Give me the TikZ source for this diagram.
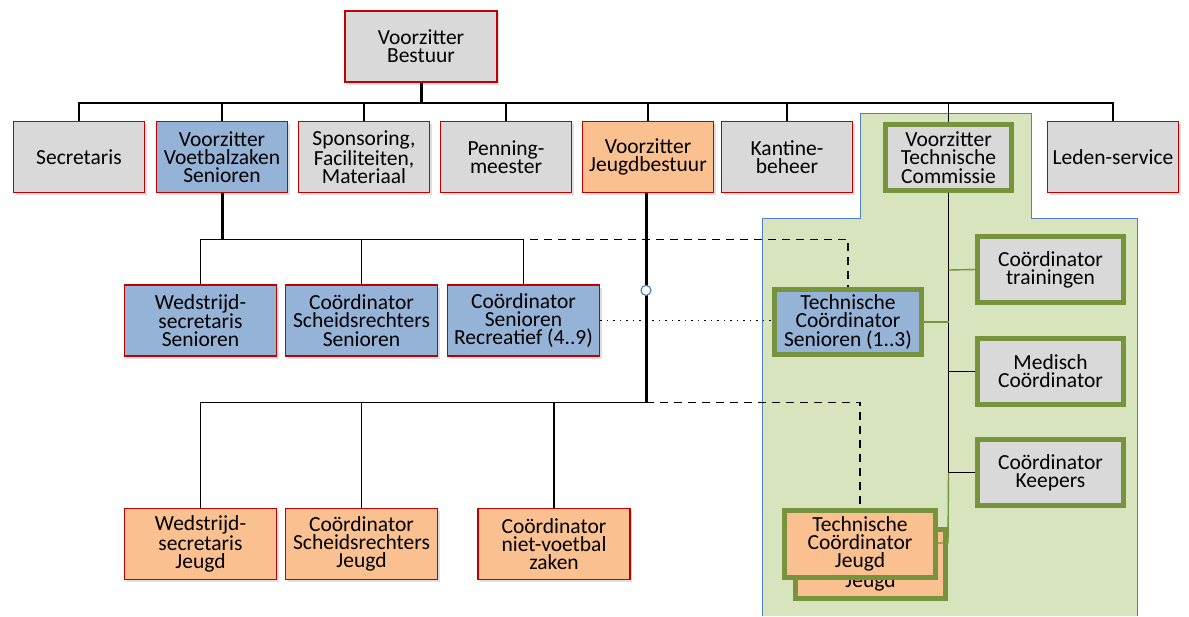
\documentclass[tikz,border=0pt]{standalone}
\usepackage{fontspec}
\setmainfont{Carlito}
\usetikzlibrary{shadows}

\definecolor{boxgray}{HTML}{D9D9D9}
\definecolor{boxblue}{HTML}{95B3D7}
\definecolor{boxorange}{HTML}{FAC090}
\definecolor{boxred}{HTML}{C00000}
\definecolor{tcgreen}{HTML}{77933C}
\definecolor{tcfill}{HTML}{D7E4BD}
\definecolor{tcline}{HTML}{4F81BD}

\tikzset{
  box/.style={draw=boxred, line width=1.8pt, fill=boxgray, align=center,
    minimum width=131pt, minimum height=71pt, inner sep=0pt,
    font=\fontsize{21.5}{18.2}\selectfont,
    drop shadow={opacity=0.25, shadow xshift=2pt, shadow yshift=-2.5pt}},
  wide/.style={minimum width=152pt},
  senior/.style={fill=boxblue},
  youth/.style={fill=boxorange},
  tcbox/.style={draw=tcgreen, line width=5pt},
  link/.style={black, line width=1.7pt},
  trunk/.style={black, line width=3pt},
  dashline/.style={black, line width=1.6pt, dash pattern=on 8pt off 6pt},
  dotline/.style={black, line width=1.4pt, dash pattern=on 1.5pt off 5pt},
  greenlink/.style={tcgreen, line width=1.4pt},
  knob/.style={circle, draw=tcline, fill=white, line width=1.2pt,
    minimum size=10pt, inner sep=0pt}
}

\begin{document}
\begin{tikzpicture}[x=1pt, y=-1pt]
    \useasboundingbox (0,0) rectangle (1189,616);

    % Draw the technical committee area
    \fill[tcfill] (860,113) -- (1031,113) -- (1031,218) -- (1137,218)
        -- (1137,616) -- (762,616) -- (762,218) -- (860,218) -- cycle;
    \draw[tcline, line width=1pt] (762,616) -- (762,218) -- (860,218)
        -- (860,113) -- (1031,113) -- (1031,218) -- (1137,218) -- (1137,616);

    % Board
    \node[box, minimum width=152pt] (top) at (421,46.5) {Voorzitter\\Bestuur};

    % First row
    \node[box] (secr) at (79,157) {Secretaris};
    \node[box, senior] (vvs) at (222,157) {Voorzitter\\Voetbalzaken\\Senioren};
    \node[box] (spons) at (364,157) {Sponsoring,\\Faciliteiten,\\Materiaal};
    \node[box] (penn) at (506,157) {Penning-\\meester};
    \node[box, youth] (vjb) at (648,157) {Voorzitter\\Jeugdbestuur};
    \node[box] (kant) at (787,157) {Kantine-\\beheer};
    \node[box, tcbox, minimum width=126pt, minimum height=66pt] (vtc) at (948.5,157.5) {Voorzitter\\Technische\\Commissie};
    \node[box] (leden) at (1113,157) {Leden-service};

    % Seniors row
    \node[box, wide, senior] (wss) at (200.5,320.5) {Wedstrijd-\\secretaris\\Senioren};
    \node[box, wide, senior] (css) at (361.5,320.5) {Coördinator\\Scheidsrechters\\Senioren};
    \node[box, wide, senior] (crs) at (523.5,320.5) {Coördinator\\Senioren\\Recreatief (4..9)};
    \node[box, wide, senior, tcbox, minimum width=147pt, minimum height=65pt] (tcs) at (848,322) {Technische\\Coördinator\\Senioren (1..3)};

    % Technical committee column
    \node[box, tcbox, minimum width=146pt, minimum height=66pt] (train) at (1050.5,269.5) {Coördinator\\trainingen};
    \node[box, tcbox, minimum width=146pt, minimum height=66pt] (med) at (1050.5,371.5) {Medisch\\Coördinator};
    \node[box, tcbox, minimum width=146pt, minimum height=66pt] (keep) at (1050.5,472.5) {Coördinator\\Keepers};

    % Youth row
    \node[box, wide, youth] (wsj) at (200.5,544) {Wedstrijd-\\secretaris\\Jeugd};
    \node[box, wide, youth] (csj) at (361.5,544) {Coördinator\\Scheidsrechters\\Jeugd};
    \node[box, wide, youth] (cnv) at (554,544) {Coördinator\\niet-voetbal\\zaken};
    \node[box, youth, tcbox, minimum width=150pt, minimum height=69pt] (tcjback) at (870.5,564) {\phantom{T}\\\phantom{C}\\Jeugd};

    % Draw the board lines
    \draw[trunk] (top.south) -- ++(0,20) coordinate (bus);
    \foreach \n in {secr,vvs,spons,penn,vjb,kant,vtc,leden}
        \draw[link] (bus) -| (\n.north);
    \draw[trunk, line width=2.4pt] (bus) -- (bus -| vtc.north);

    % Draw the seniors lines
    \draw[dashline] (vvs.south) ++(0,46) coordinate (sbus) -| (tcs.north);
    \draw[trunk] (vvs.south) -- (sbus);
    \foreach \n in {wss,css,crs}
        \draw[link] (sbus) -| (\n.north);
    \draw[dotline] (crs.east) -- (crs.east -| tcs.west);

    % Draw the youth lines
    \draw[dashline] (vjb.south) ++(-2,209) coordinate (jbus) -| (860,508);
    \foreach \n in {wsj,csj,cnv}
        \draw[link] (jbus) -| (\n.north);
    \draw[trunk] (vjb.south) ++(-2,0) -- node[knob, pos=0.464] (knob) {} (jbus);

    % Draw the committee lines
    \draw[link] (vtc.south) |- (keep.west);
    \draw[link] (vtc.south) |- (med.west);
    \draw[greenlink] (vtc.south) ++(0,77) -- (train.west);
    \draw[greenlink] (vtc.south |- tcs.east) -- (tcs.east);
    \draw[greenlink] (vtc.south |- keep.west) -- (948,543) -- (938,543);

    % Youth technical coordinator
    \node[box, youth, tcbox, minimum width=151pt, minimum height=67pt] (tcj) at (860,544) {Technische\\Coördinator\\Jeugd};

\end{tikzpicture}
\end{document}
